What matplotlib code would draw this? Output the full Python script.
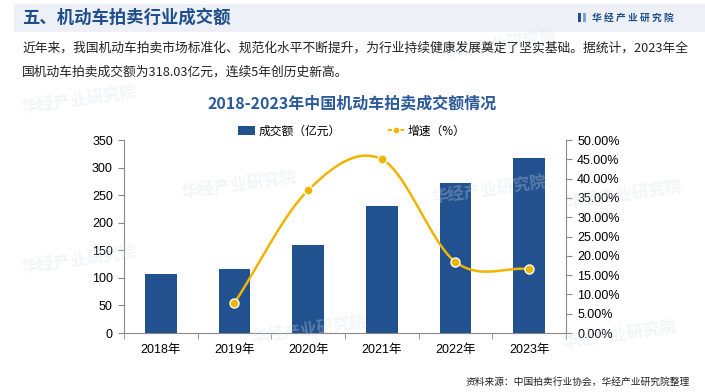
import numpy as np
import matplotlib
matplotlib.use("Agg")
import matplotlib.pyplot as plt
from matplotlib.patches import Rectangle, Patch
from matplotlib.lines import Line2D

plt.rcParams['font.family'] = ['Liberation Sans', 'Noto Sans CJK SC', 'DejaVu Sans']

years = ["2018年", "2019年", "2020年", "2021年", "2022年", "2023年"]
amount = [107.6, 116.0, 158.9, 230.4, 272.8, 318.03]
growth_years_idx = [1, 2, 3, 4, 5]
growth = [7.8, 37.0, 45.0, 18.4, 16.6]
left_ticks = [0, 50, 100, 150, 200, 250, 300, 350]
right_ticks = [0, 5, 10, 15, 20, 25, 30, 35, 40, 45, 50]

BAR = "#21528f"
LINE = "#f0b400"
CJK = ['Noto Sans CJK SC', 'DejaVu Sans']

fig = plt.figure(figsize=(7.05, 3.92), dpi=100)
W, H = 705, 392

def fx(x): return x / W
def fy(y): return 1 - y / H

# header band
fig.patches.append(Rectangle((fx(14), fy(32)), fx(691), 28 / H, transform=fig.transFigure,
                             facecolor="#edf0f6", edgecolor="none", zorder=0))
fig.text(fx(22), fy(18), "五、机动车拍卖行业成交额", family=CJK, fontsize=12.5,
         fontweight="bold", color="#1f4e8c", va="center", ha="left")
fig.patches.append(Rectangle((fx(578), fy(22)), 3 / W, 9 / H, transform=fig.transFigure,
                             facecolor="#1f4e8c", edgecolor="none"))
fig.patches.append(Rectangle((fx(583), fy(22)), 3 / W, 9 / H, transform=fig.transFigure,
                             facecolor="#7fa0c8", edgecolor="none"))
fig.text(fx(592), fy(17.5), "华 经 产 业 研 究 院", family=CJK, fontsize=7,
         fontweight="bold", color="#1f4e8c", va="center", ha="left")

# faint watermarks
for (wx, wy) in [(20, 100), (180, 185), (430, 190), (565, 195), (20, 260), (250, 330), (560, 335), (440, 45)]:
    fig.text(fx(wx), fy(wy), "华经产业研究院", family=CJK, fontsize=12, fontweight="bold",
             color="#d8dde6", alpha=0.3, rotation=8, va="center", ha="left", zorder=0)

para1 = "近年来，我国机动车拍卖市场标准化、规范化水平不断提升，为行业持续健康发展奠定了坚实基础。据统计，2023年全"
para2 = "国机动车拍卖成交额为318.03亿元，连续5年创历史新高。"
fig.text(fx(22), fy(48), para1, family=CJK, fontsize=9.2, color="#222222", va="center", ha="left")
fig.text(fx(22), fy(72), para2, family=CJK, fontsize=9.2, color="#222222", va="center", ha="left")

fig.text(fx(352), fy(103), "2018-2023年中国机动车拍卖成交额情况", family=CJK, fontsize=11.5,
         fontweight="bold", color="#2a5a9a", va="center", ha="center")

fig.text(fx(690), fy(382), "资料来源：中国拍卖行业协会，华经产业研究院整理", family=CJK, fontsize=7,
         color="#222222", va="center", ha="right")

ax = fig.add_axes([fx(124), fy(333), fx(566) - fx(124), (333 - 140) / H])
ax.patch.set_alpha(0)
x = np.arange(len(years))
ax.bar(x, amount, width=0.43, color=BAR, zorder=2)
ax.set_xlim(-0.5, len(years) - 0.5)
ax.set_ylim(0, 350)
ax.set_yticks(left_ticks)
ax.set_yticklabels([str(t) for t in left_ticks], fontsize=9)
ax.set_xticks(x)
ax.set_xticklabels(years, family=['Liberation Sans', 'Noto Sans CJK SC'], fontsize=9)
ax.tick_params(axis='x', length=0, pad=8)
ax.set_xticks(np.arange(-0.5, len(years), 1.0), minor=True)
ax.tick_params(axis='x', which='minor', length=4, color="#888888")
ax.tick_params(axis='y', length=4, color="#888888", pad=4)
for s in ["top", "right"]:
    ax.spines[s].set_visible(False)
for s in ["left", "bottom"]:
    ax.spines[s].set_color("#888888")

ax2 = ax.twinx()
ax2.set_ylim(0, 50)
ax2.set_yticks(right_ticks)
ax2.set_yticklabels([f"{t:.2f}%" for t in right_ticks], fontsize=9)
ax2.tick_params(axis='y', length=4, color="#888888", pad=4)
for s in ["top", "left", "bottom"]:
    ax2.spines[s].set_visible(False)
ax2.spines["right"].set_color("#888888")

# smooth (Catmull-Rom) curve through growth points
px = np.array(growth_years_idx, dtype=float)
py = np.array(growth, dtype=float)
P = np.column_stack([px, py])
Pext = np.vstack([2 * P[0] - P[1], P, 2 * P[-1] - P[-2]])
cx, cy = [], []
for i in range(1, len(Pext) - 2):
    p0, p1, p2, p3 = Pext[i - 1], Pext[i], Pext[i + 1], Pext[i + 2]
    t = np.linspace(0, 1, 40)[:, None]
    c = 0.5 * ((2 * p1) + (-p0 + p2) * t + (2 * p0 - 5 * p1 + 4 * p2 - p3) * t ** 2
               + (-p0 + 3 * p1 - 3 * p2 + p3) * t ** 3)
    cx.extend(c[:, 0]); cy.extend(c[:, 1])
ax2.plot(cx, cy, color=LINE, lw=1.8, zorder=3)
ax2.plot(px, py, 'o', color=LINE, markersize=6.5, markeredgecolor="white", markeredgewidth=1, zorder=4)

handles = [Patch(facecolor=BAR, edgecolor="none"),
           Line2D([0], [0], color=LINE, lw=1.5, ls=(0, (2, 1)), marker='o', markersize=3)]
fig.legend(handles, ["成交额（亿元）", "增速（%）"], loc="center", bbox_to_anchor=(fx(352), fy(131)),
           ncol=2, frameon=False, prop={'family': CJK, 'size': 8.5}, handlelength=1.4,
           handleheight=0.7, columnspacing=4, handletextpad=0.3)

fig.savefig("out.png", dpi=100)
